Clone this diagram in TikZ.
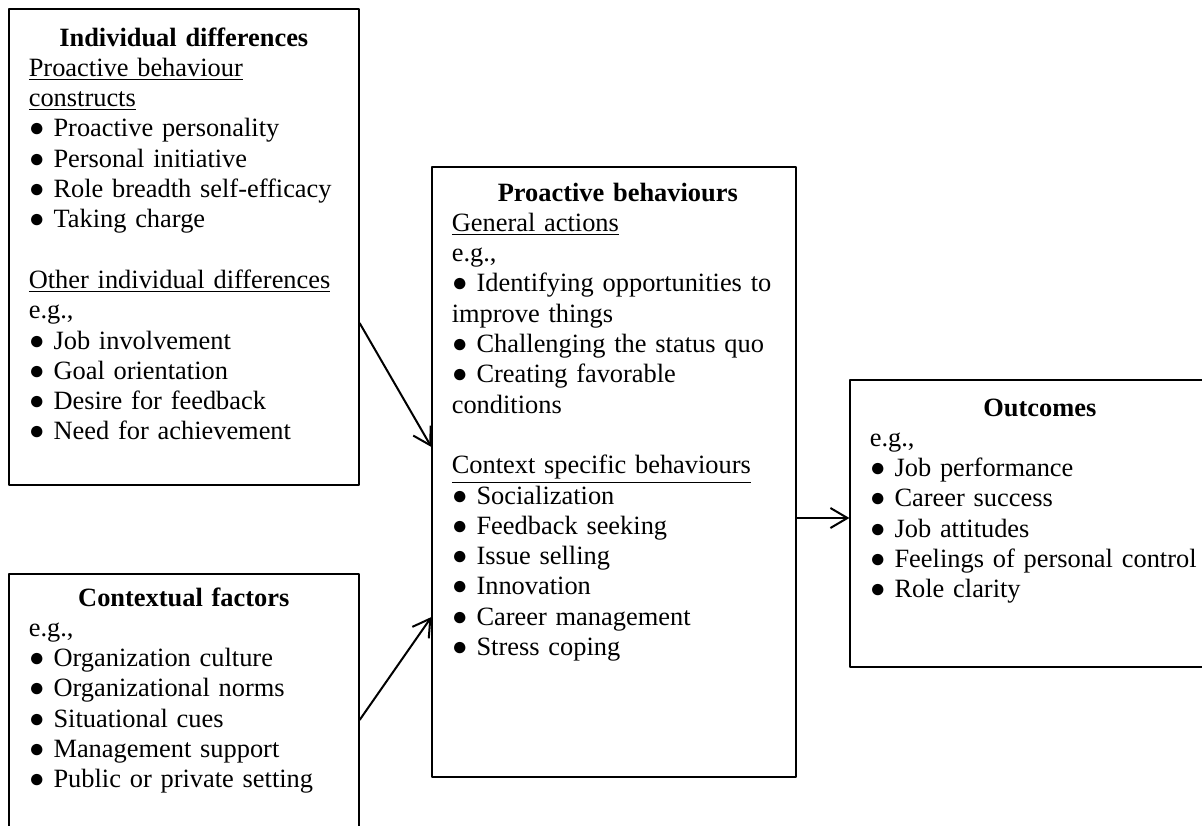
\documentclass[tikz,border=0pt]{standalone}
\usepackage{fontspec}
\setmainfont{Liberation Serif}
\usetikzlibrary{positioning,fit,arrows.meta}
\lineskiplimit=-20pt
\begin{document}
\begin{tikzpicture}[x=0.5pt, y=-0.5pt, line join=round, >={Straight Barb[length=8.5pt,width=10pt]}]
	\tikzset{box/.style={draw, line width=0.6pt, inner sep=0pt},
		txt/.style={inner sep=0pt, align=left, font=\fontsize{13.2pt}{15.15pt}\selectfont},
		arr/.style={->, line width=1pt}}
	\def\gap{\\[15.15pt]}
	\useasboundingbox (0,0) rectangle (1202,825);
	\clip (0,0) rectangle (1202,825);
	% boxes
	\node[box, fit={(9,9) (359,485)}] (indiv) {};
	\node[box, fit={(9,574) (359,866)}] (context) {};
	\node[box, fit={(432,167) (796,777)}] (behav) {};
	\node[box, fit={(850,380) (1230,667)}] (outc) {};
	% texts
	\node[txt, text width=155pt, below right=8pt and 10pt of indiv.north west] (indivtxt) {\centerline{\strut\bfseries Individual differences}
		\underline{Proactive behaviour}\\
		\underline{constructs}\\
		● Proactive personality\\
		● Personal initiative\\
		● Role breadth self-efficacy\\
		● Taking charge\gap
		\underline{Other individual differences}\\
		e.g.,\\
		● Job involvement\\
		● Goal orientation\\
		● Desire for feedback\\
		● Need for achievement};
	\node[txt, text width=155pt, below right=5.5pt and 10pt of context.north west] (contexttxt) {\centerline{\strut\bfseries Contextual factors}
		e.g.,\\
		● Organization culture\\
		● Organizational norms\\
		● Situational cues\\
		● Management support\\
		● Public or private setting};
	\node[txt, text width=166pt, below right=6.5pt and 10pt of behav.north west] (behavtxt) {\centerline{\strut\bfseries Proactive behaviours}
		\underline{General actions}\\
		e.g.,\\
		● Identifying opportunities to\\
		improve things\\
		● Challenging the status quo\\
		● Creating favorable\\
		conditions\gap
		\underline{Context specific behaviours}\\
		● Socialization\\
		● Feedback seeking\\
		● Issue selling\\
		● Innovation\\
		● Career management\\
		● Stress coping};
	\node[txt, text width=170pt, below right=7.5pt and 10pt of outc.north west] (outctxt) {\centerline{\strut\bfseries Outcomes}
		e.g.,\\
		● Job performance\\
		● Career success\\
		● Job attitudes\\
		● Feelings of personal control\\
		● Role clarity};
	% arrows
	\draw[arr] ([yshift=-38pt]indiv.east) -- ([yshift=12.5pt]behav.west);
	\draw[arr] (context.east) -- ([yshift=-72.5pt]behav.west);
	\draw[arr] ([yshift=-23pt]behav.east) -- ([yshift=2.75pt]outc.west);
\end{tikzpicture}
\end{document}
